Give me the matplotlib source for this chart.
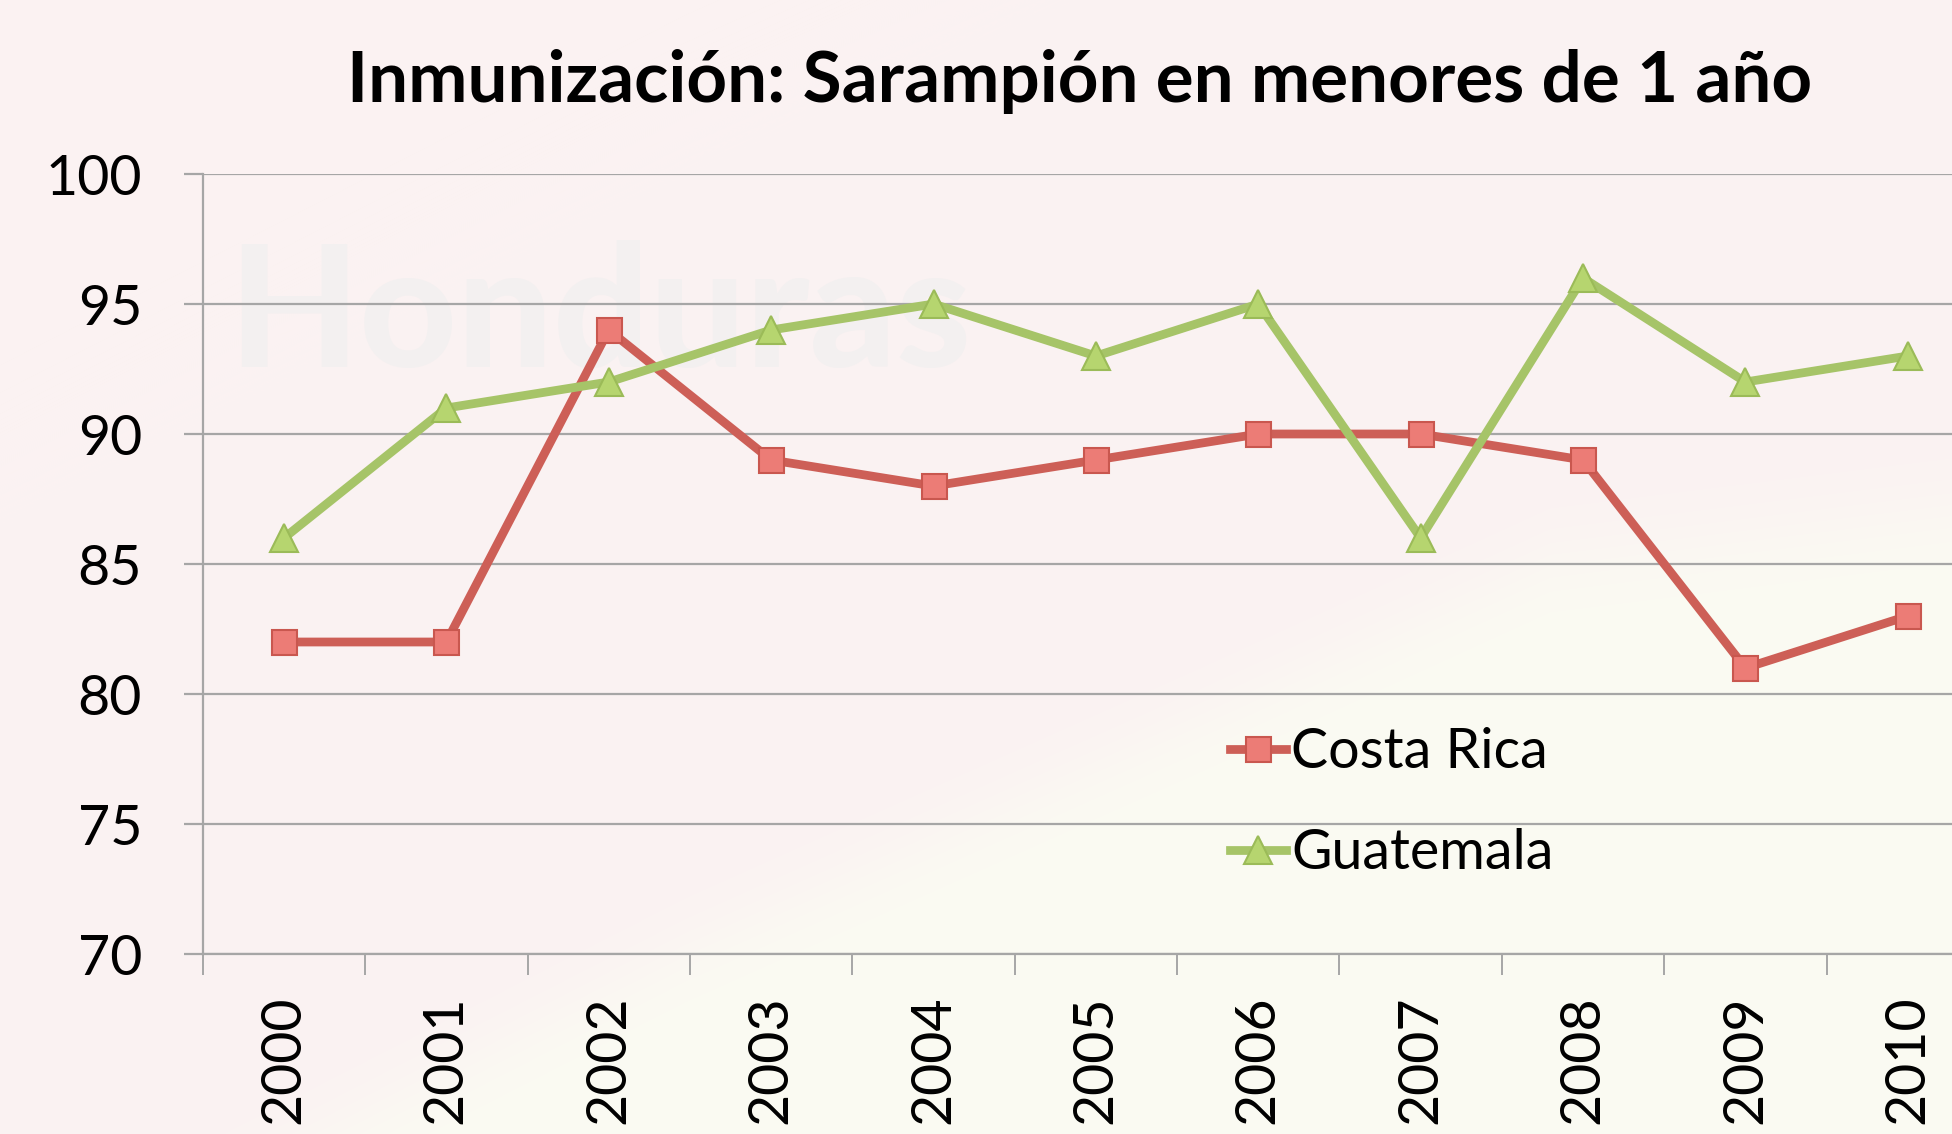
import numpy as np
import matplotlib
matplotlib.use("Agg")
import matplotlib.pyplot as plt
from matplotlib.ticker import FixedLocator

# ---- data ----
years = ["2000", "2001", "2002", "2003", "2004", "2005", "2006", "2007", "2008", "2009", "2010"]
costa_rica = [82, 82, 94, 89, 88, 89, 90, 90, 89, 81, 83]
guatemala = [86, 91, 92, 94, 95, 93, 95, 86, 96, 92, 93]
yticks = [70, 75, 80, 85, 90, 95, 100]
title = "Inmunización: Sarampión en menores de 1 año"
series_names = ["Costa Rica", "Guatemala"]

W, H = 1952, 1134
DPI = 100
plt.rcParams['font.family'] = ['Lato', 'DejaVu Sans']

fig = plt.figure(figsize=(W / DPI, H / DPI), dpi=DPI)

# ---- background (pink / cream blend) ----
bg = fig.add_axes([0, 0, 1, 1], zorder=-10)
xs = np.arange(W)
ys = np.arange(H)
X, Y = np.meshgrid(xs, ys)
bx = [0, 685, 1200, 1550, 1952]
by = [1300, 950, 720, 560, 510]
yb = np.interp(X, bx, by)
w = 1 / (1 + np.exp(-(Y - yb) / 25.0))
pink = np.array([251, 242, 242]) / 255
cream = np.array([250, 251, 243]) / 255
img = pink[None, None, :] * (1 - w[..., None]) + cream[None, None, :] * w[..., None]
bg.imshow(img, extent=[0, W, H, 0], aspect='auto', interpolation='bilinear')
bg.set_xlim(0, W)
bg.set_ylim(H, 0)
bg.axis('off')
bg.text(228, 367, "Honduras", fontsize=122, fontweight='black', color='#F3F0F0',
        ha='left', va='baseline', zorder=1)

# ---- main axes ----
left = 202.8 / W
right_px = 1989.0
bottom = (H - 954) / H
top = (H - 174) / H
ax = fig.add_axes([left, bottom, (right_px - 202.8) / W, top - bottom])
ax.patch.set_alpha(0)

x = np.arange(len(years))
grid_c = '#A6A6A6'

ax.plot(x, costa_rica, color='#CD5F57', lw=6.3, marker='s', markersize=18,
        markerfacecolor='#EC7C76', markeredgecolor='#C9574F', markeredgewidth=1.5,
        label=series_names[0], zorder=3, solid_joinstyle='round')
ax.plot(x, guatemala, color='#A6C468', lw=6.3, marker='^', markersize=20,
        markerfacecolor='#B6D56F', markeredgecolor='#9BBB58', markeredgewidth=1.5,
        label=series_names[1], zorder=3, solid_joinstyle='round')

ax.set_xlim(-0.5, len(years) - 0.5)
ax.set_ylim(70, 100)
ax.set_yticks(yticks)
ax.set_yticklabels([str(v) for v in yticks])
ax.yaxis.grid(True, color=grid_c, lw=1.6, zorder=0)
ax.set_axisbelow(True)

ax.set_xticks(x)
ax.set_xticklabels(years, rotation=90)
ax.xaxis.set_minor_locator(FixedLocator(np.arange(-0.5, len(years), 1.0)))

for s in ['top', 'right']:
    ax.spines[s].set_visible(False)
for s in ['left', 'bottom']:
    ax.spines[s].set_color(grid_c)
    ax.spines[s].set_linewidth(1.6)

ax.tick_params(axis='y', which='major', length=13.7, width=1.6, color=grid_c,
               labelsize=40, pad=30, direction='out')
ax.tick_params(axis='x', which='major', length=0, labelsize=40, pad=30)
ax.tick_params(axis='x', which='minor', length=15, width=1.4, color=grid_c, direction='out')

fig.text(1080 / W, 1 - 81 / H, title, fontsize=51, fontweight='bold',
         ha='center', va='center')

leg = ax.legend(loc='center left', bbox_to_anchor=(1230 / W, 1 - 803 / H),
                bbox_transform=fig.transFigure, frameon=False, fontsize=40,
                handlelength=1.0, handletextpad=0.1, labelspacing=0.9,
                borderpad=0, borderaxespad=0)

fig.savefig("out.png", dpi=DPI)
